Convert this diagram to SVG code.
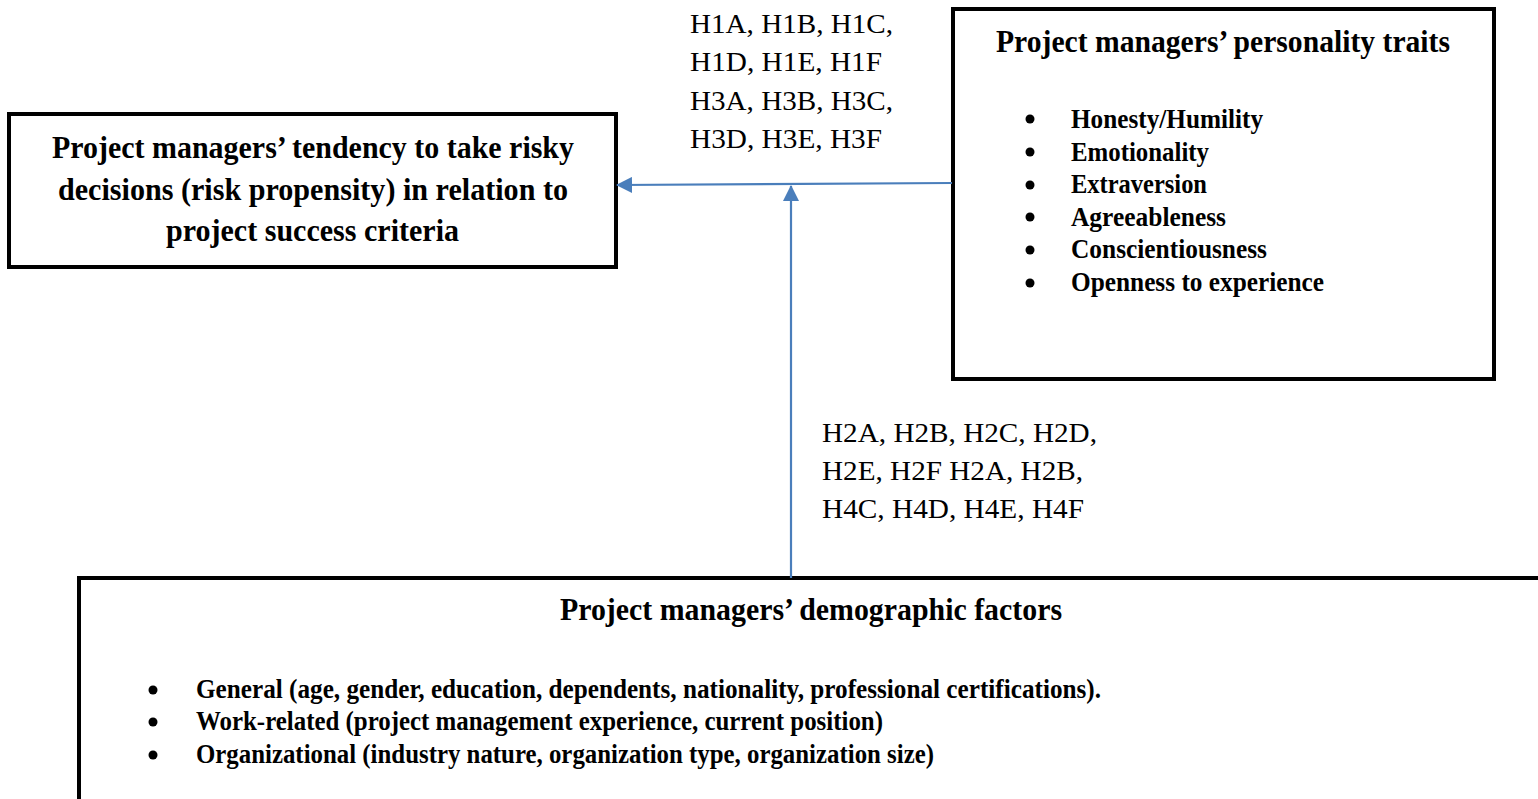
<svg xmlns="http://www.w3.org/2000/svg" width="1538" height="799" viewBox="0 0 1538 799">
<defs>
<style>
.box{fill:#fff;stroke:#000;stroke-width:4}
.t{font-family:"Liberation Serif","Times New Roman",serif;font-weight:bold;fill:#000}
.h{font-size:32px}
.li{font-size:27.5px}
.lab{font-family:"Liberation Serif","Times New Roman",serif;font-size:28px;fill:#000}
.conn{stroke:#4a7ebb;stroke-width:2.2;fill:none}
</style>
<marker id="ah" markerWidth="16" markerHeight="16" viewBox="0 0 16 16" refX="15" refY="8" orient="auto" markerUnits="userSpaceOnUse">
<path d="M0,0 L16,8 L0,16 Z" fill="#4a7ebb"/>
</marker>
</defs>
<rect width="1538" height="799" fill="#fff"/>

<g id="risk-propensity">
<rect class="box" x="9" y="114" width="607" height="153"/>
<text class="t h" x="52" y="158" textLength="522" lengthAdjust="spacingAndGlyphs">Project managers’ tendency to take risky</text>
<text class="t h" x="58" y="200" textLength="510" lengthAdjust="spacingAndGlyphs">decisions (risk propensity) in relation to</text>
<text class="t h" x="166" y="241" textLength="293" lengthAdjust="spacingAndGlyphs">project success criteria</text>
</g>

<g id="personality-traits">
<rect class="box" x="953" y="9" width="541" height="370"/>
<text class="t h" x="996" y="52" textLength="454" lengthAdjust="spacingAndGlyphs">Project managers’ personality traits</text>
<g fill="#000">
<circle cx="1030" cy="119" r="4.5"/><circle cx="1030" cy="152" r="4.5"/><circle cx="1030" cy="185" r="4.5"/>
<circle cx="1030" cy="217" r="4.5"/><circle cx="1030" cy="250" r="4.5"/><circle cx="1030" cy="283" r="4.5"/>
</g>
<text class="t li" x="1071" y="128" textLength="192" lengthAdjust="spacingAndGlyphs">Honesty/Humility</text>
<text class="t li" x="1071" y="161" textLength="138" lengthAdjust="spacingAndGlyphs">Emotionality</text>
<text class="t li" x="1071" y="193" textLength="136" lengthAdjust="spacingAndGlyphs">Extraversion</text>
<text class="t li" x="1071" y="226" textLength="155" lengthAdjust="spacingAndGlyphs">Agreeableness</text>
<text class="t li" x="1071" y="258" textLength="196" lengthAdjust="spacingAndGlyphs">Conscientiousness</text>
<text class="t li" x="1071" y="291" textLength="253" lengthAdjust="spacingAndGlyphs">Openness to experience</text>
</g>

<g id="demographic-factors">
<rect class="box" x="79" y="578" width="1500" height="260"/>
<text class="t h" x="560" y="620" textLength="502" lengthAdjust="spacingAndGlyphs">Project managers’ demographic factors</text>
<g fill="#000">
<circle cx="153" cy="690" r="4.5"/><circle cx="153" cy="722" r="4.5"/><circle cx="153" cy="755" r="4.5"/>
</g>
<text class="t li" x="196" y="698" textLength="905" lengthAdjust="spacingAndGlyphs">General (age, gender, education, dependents, nationality, professional certifications).</text>
<text class="t li" x="196" y="730" textLength="687" lengthAdjust="spacingAndGlyphs">Work-related (project management experience, current position)</text>
<text class="t li" x="196" y="763" textLength="738" lengthAdjust="spacingAndGlyphs">Organizational (industry nature, organization type, organization size)</text>
</g>

<g id="connectors">
<line class="conn" x1="952" y1="183" x2="617" y2="185" marker-end="url(#ah)"/>
<line class="conn" x1="791" y1="578" x2="791" y2="186" marker-end="url(#ah)"/>
</g>

<g id="labels">
<text class="lab" x="690" y="33" textLength="203" lengthAdjust="spacingAndGlyphs">H1A, H1B, H1C,</text>
<text class="lab" x="690" y="71" textLength="192" lengthAdjust="spacingAndGlyphs">H1D, H1E, H1F</text>
<text class="lab" x="690" y="110" textLength="203" lengthAdjust="spacingAndGlyphs">H3A, H3B, H3C,</text>
<text class="lab" x="690" y="148" textLength="192" lengthAdjust="spacingAndGlyphs">H3D, H3E, H3F</text>
<text class="lab" x="822" y="442" textLength="275" lengthAdjust="spacingAndGlyphs">H2A, H2B, H2C, H2D,</text>
<text class="lab" x="822" y="480" textLength="261" lengthAdjust="spacingAndGlyphs">H2E, H2F H2A, H2B,</text>
<text class="lab" x="822" y="518" textLength="262" lengthAdjust="spacingAndGlyphs">H4C, H4D, H4E, H4F</text>
</g>
</svg>
